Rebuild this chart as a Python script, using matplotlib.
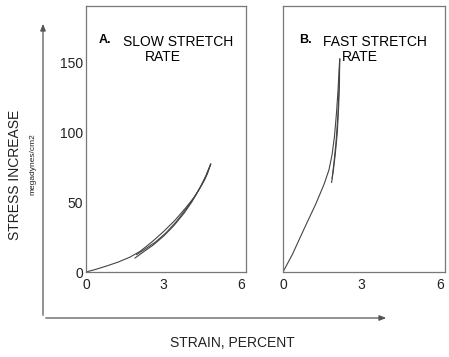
import matplotlib
matplotlib.use("Agg")
import matplotlib.pyplot as plt

plt.rcParams['font.family'] = ['Liberation Sans', 'DejaVu Sans']

# panel A: slow stretch rate (strain %, stress megadynes/cm2)
slow_load_x = [0, 0.4, 0.8, 1.25, 1.7, 2.1, 2.55, 3.0, 3.45, 3.84, 4.2, 4.48, 4.7, 4.83]
slow_load_y = [0, 2.0, 4.3, 7.1, 10.6, 14.8, 21.4, 28.8, 37.0, 45.3, 53.5, 62, 70, 77]
slow_unload_x = [4.83, 4.65, 4.4, 4.1, 3.8, 3.4, 3.0, 2.6, 2.2, 1.9]
slow_unload_y = [77, 69, 59.5, 50, 42, 33, 25.5, 19.2, 14, 10]
slow_reload_x = [1.96, 2.3, 2.7, 3.1, 3.5, 3.9, 4.3, 4.6, 4.83]
slow_reload_y = [12.4, 16.5, 21.5, 28, 36, 45.5, 56.5, 66, 77]

# panel B: fast stretch rate
fast_load_x = [0, 0.36, 0.8, 1.25, 1.57, 1.76, 1.88, 1.97, 2.04, 2.1, 2.14, 2.17]
fast_load_y = [0, 12.6, 30.5, 48.4, 62.6, 73, 84, 97, 112, 128, 142, 152]
fast_unload_x = [2.17, 2.16, 2.13, 2.08, 2.0, 1.93, 1.86]
fast_unload_y = [152, 135, 118, 100, 84, 73, 64]
fast_reload_x = [1.88, 1.95, 2.03, 2.1, 2.14, 2.17]
fast_reload_y = [67, 78, 93, 112, 130, 152]

x_ticks = [0, 3, 6]
y_ticks = [0, 50, 100, 150]

W, H = 449, 357
fig = plt.figure(figsize=(W / 100, H / 100), dpi=100)

def make_ax(left, right):
    ax = fig.add_axes([left / W, (H - 272) / H, (right - left) / W, 266 / H])
    ax.set_xlim(0, 6.2)
    ax.set_ylim(0, 190)
    ax.set_xticks(x_ticks)
    ax.tick_params(length=0, labelsize=10, colors='#222')
    ax.tick_params(axis='y', pad=2)
    ax.tick_params(axis='x', pad=4)
    for s in ax.spines.values():
        s.set_color('#777')
        s.set_linewidth(0.9)
    return ax

ax_a = make_ax(86, 246)
ax_a.set_yticks(y_ticks)
ax_b = make_ax(283, 445)
ax_b.set_yticks([])

lc = '#444'
lw = 0.8
ax_a.plot(slow_load_x, slow_load_y, color=lc, lw=lw)
ax_a.plot(slow_unload_x, slow_unload_y, color=lc, lw=lw)
ax_a.plot(slow_reload_x, slow_reload_y, color=lc, lw=lw)
ax_b.plot(fast_load_x, fast_load_y, color=lc, lw=lw)
ax_b.plot(fast_unload_x, fast_unload_y, color=lc, lw=lw)
ax_b.plot(fast_reload_x, fast_reload_y, color=lc, lw=lw)

def fx(px):
    return px / W

def fy(py):
    return 1 - py / H

fig.text(fx(99), fy(40), 'A.', fontsize=9, fontweight='bold', va='center')
fig.text(fx(178), fy(42), 'SLOW STRETCH', fontsize=10, ha='center', va='center')
fig.text(fx(163), fy(57), 'RATE', fontsize=10, ha='center', va='center')
fig.text(fx(299), fy(40), 'B.', fontsize=9, fontweight='bold', va='center')
fig.text(fx(375), fy(42), 'FAST STRETCH', fontsize=10, ha='center', va='center')
fig.text(fx(360), fy(57), 'RATE', fontsize=10, ha='center', va='center')

# outer axis arrows
fig.add_artist(matplotlib.patches.FancyArrowPatch(
    (fx(43), fy(318)), (fx(43), fy(21)), transform=fig.transFigure,
    arrowstyle='-|>,head_length=4,head_width=1.6', color='#555', lw=0.9))
fig.add_artist(matplotlib.patches.FancyArrowPatch(
    (fx(43), fy(318)), (fx(389), fy(318)), transform=fig.transFigure,
    arrowstyle='-|>,head_length=4,head_width=1.6', color='#555', lw=0.9))

fig.text(fx(15), fy(175), 'STRESS INCREASE', fontsize=10, rotation=90,
         ha='center', va='center', color='#222')
fig.text(fx(33), fy(164), 'megadynes/cm2', fontsize=6, rotation=90,
         ha='center', va='center', color='#222')
fig.text(fx(232), fy(343), 'STRAIN, PERCENT', fontsize=10,
         ha='center', va='center', color='#222')

fig.savefig('out.png', dpi=100)
